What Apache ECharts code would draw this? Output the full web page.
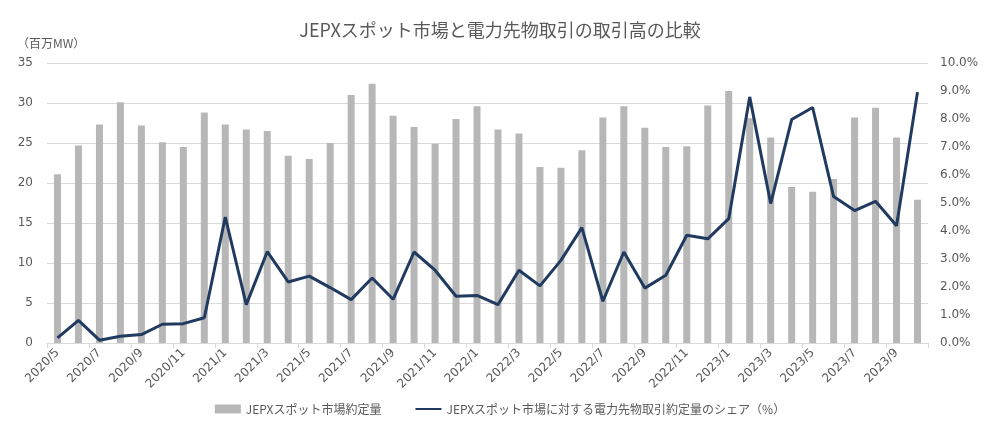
<!DOCTYPE html>
<html><head><meta charset="utf-8">
<script src="https://cdn.jsdelivr.net/npm/echarts@6/dist/echarts.min.js"></script>
<style>html,body{margin:0;padding:0;background:#fff}#c{width:1000px;height:428px}</style>
</head><body><div id="c"></div>
<script>
const categories = ['2020/5','2020/6','2020/7','2020/8','2020/9','2020/10','2020/11','2020/12',
'2021/1','2021/2','2021/3','2021/4','2021/5','2021/6','2021/7','2021/8','2021/9','2021/10','2021/11','2021/12',
'2022/1','2022/2','2022/3','2022/4','2022/5','2022/6','2022/7','2022/8','2022/9','2022/10','2022/11','2022/12',
'2023/1','2023/2','2023/3','2023/4','2023/5','2023/6','2023/7','2023/8','2023/9','2023/10'];
const spotVolume = [21.1,24.7,27.3,30.1,27.2,25.1,24.5,28.8,
27.3,26.7,26.5,23.4,23.0,25.0,31.0,32.4,28.4,27.0,24.9,28.0,
29.6,26.7,26.2,22.0,21.9,24.1,28.2,29.6,26.9,24.5,24.6,29.7,
31.5,28.1,25.7,19.5,18.9,20.5,28.2,29.4,25.7,17.9];
const futuresShare = [0.18,0.81,0.10,0.24,0.30,0.67,0.69,0.90,
4.50,1.37,3.26,2.18,2.39,1.98,1.55,2.32,1.56,3.25,2.60,1.67,
1.70,1.37,2.60,2.04,2.95,4.12,1.49,3.25,1.96,2.42,3.85,3.72,
4.44,8.79,4.98,7.98,8.41,5.23,4.73,5.06,4.19,8.96];
const seriesNames = ['JEPXスポット市場約定量','JEPXスポット市場に対する電力先物取引約定量のシェア（%）'];

const font = '"DejaVu Sans", "Noto Sans CJK JP", sans-serif';
const cjk = '"Noto Sans CJK JP", "DejaVu Sans", sans-serif';
const txt = '#595959';
const chart = echarts.init(document.getElementById('c'));
chart.setOption({
  animation: false,
  textStyle: {fontFamily: font},
  title: {text: 'JEPXスポット市場と電力先物取引の取引高の比較', left: 'center', top: 16,
    textStyle: {fontFamily: cjk, fontSize: 18, fontWeight: 'normal', color: txt}},
  legend: {bottom: 8, left: 'center', itemGap: 34, itemWidth: 26, itemHeight: 9,
    textStyle: {fontFamily: cjk, fontSize: 12, color: txt},
    data: [{name: seriesNames[0], icon: 'rect'}, {name: seriesNames[1], icon: 'path://M0,4L26,4L26,6L0,6Z', itemStyle:{color:'#203a60'}}]},
  grid: {left: 47, right: 72, top: 63, bottom: 85},
  xAxis: {type: 'category', data: categories, boundaryGap: true,
    axisLine: {lineStyle: {color: '#d9d9d9'}},
    axisTick: {show: true, interval: 1, lineStyle: {color: '#d9d9d9'}},
    axisLabel: {interval: 1, rotate: 45, color: txt, fontSize: 12, fontFamily: font, margin: 8}},
  yAxis: [
    {type: 'value', min: 0, max: 35, interval: 5, name: '（百万MW）',
      nameLocation: 'end', nameGap: 14, nameTextStyle: {color: txt, fontSize: 12, fontFamily: cjk, align: 'left', padding: [0,0,0,-30]},
      axisLine: {show: false}, axisTick: {show: false},
      axisLabel: {color: txt, fontSize: 12, fontFamily: font, margin: 14},
      splitLine: {lineStyle: {color: '#d9d9d9'}}},
    {type: 'value', min: 0, max: 10, interval: 1, position: 'right',
      axisLine: {show: false}, axisTick: {show: false},
      axisLabel: {color: txt, fontSize: 12, fontFamily: font, margin: 12, formatter: v => v.toFixed(1) + '%'},
      splitLine: {show: false}}
  ],
  series: [
    {name: seriesNames[0], type: 'bar', data: spotVolume, barWidth: 7, itemStyle: {color: '#b7b7b7'}},
    {name: seriesNames[1], type: 'line', yAxisIndex: 1, data: futuresShare, symbol: 'none',
      lineStyle: {color: '#203a60', width: 3}, itemStyle: {color: '#203a60'}}
  ]
});
</script></body></html>
